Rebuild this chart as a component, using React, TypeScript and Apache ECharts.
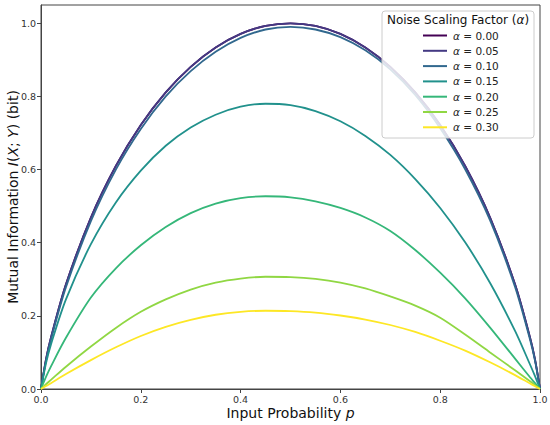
import React, { useEffect, useRef } from "react";
import * as echarts from "echarts";

const pValues = [0, 0.01, 0.02, 0.05, 0.1, 0.15, 0.2, 0.25, 0.3, 0.35, 0.4, 0.45, 0.5, 0.55, 0.6, 0.65, 0.7, 0.75, 0.8, 0.85, 0.9, 0.95, 0.98, 0.99, 1.0];

const alpha000 = [0, 0.081, 0.141, 0.286, 0.469, 0.61, 0.722, 0.811, 0.881, 0.934, 0.971, 0.993, 1.0, 0.993, 0.971, 0.934, 0.881, 0.811, 0.722, 0.61, 0.469, 0.286, 0.141, 0.081, 0];
const alpha005 = [0, 0.081, 0.141, 0.286, 0.469, 0.61, 0.722, 0.811, 0.881, 0.934, 0.971, 0.993, 1.0, 0.993, 0.971, 0.934, 0.881, 0.811, 0.722, 0.61, 0.469, 0.286, 0.141, 0.081, 0];
const alpha010 = [0, 0.077, 0.135, 0.278, 0.459, 0.6, 0.711, 0.8, 0.869, 0.922, 0.96, 0.983, 0.99, 0.983, 0.962, 0.926, 0.874, 0.804, 0.713, 0.601, 0.461, 0.279, 0.135, 0.077, 0];
const alpha015 = [0, 0.07, 0.122, 0.245, 0.396, 0.51, 0.597, 0.665, 0.715, 0.75, 0.772, 0.78, 0.776, 0.76, 0.732, 0.692, 0.64, 0.574, 0.495, 0.401, 0.29, 0.159, 0.067, 0.035, 0];
const alpha020 = [0, 0.033, 0.062, 0.14, 0.25, 0.33, 0.393, 0.443, 0.481, 0.507, 0.522, 0.527, 0.524, 0.513, 0.495, 0.469, 0.432, 0.38, 0.318, 0.248, 0.168, 0.083, 0.032, 0.016, 0];
const alpha025 = [0, 0.013, 0.025, 0.061, 0.116, 0.167, 0.211, 0.245, 0.272, 0.291, 0.302, 0.307, 0.306, 0.301, 0.291, 0.275, 0.253, 0.228, 0.195, 0.149, 0.1, 0.051, 0.021, 0.0105, 0];
const alpha030 = [0, 0.008, 0.016, 0.041, 0.079, 0.114, 0.145, 0.17, 0.189, 0.203, 0.211, 0.214, 0.213, 0.209, 0.201, 0.19, 0.175, 0.156, 0.132, 0.105, 0.073, 0.038, 0.015, 0.0075, 0];

const seriesNames = ["α = 0.00", "α = 0.05", "α = 0.10", "α = 0.15", "α = 0.20", "α = 0.25", "α = 0.30"];
const seriesValues = [alpha000, alpha005, alpha010, alpha015, alpha020, alpha025, alpha030];
const colors = ["#440154", "#443983", "#31688e", "#21918c", "#35b779", "#90d743", "#fde725"];
const yTicks = [0, 0.2, 0.4, 0.6, 0.8, 1.0];
const xTicks = [0, 0.2, 0.4, 0.6, 0.8, 1.0];

const FONT = "DejaVu Sans";

export default function App() {
  const ref = useRef<HTMLDivElement>(null);
  useEffect(() => {
    if (!ref.current) return;
    const chart = echarts.init(ref.current, null, { renderer: "svg" });
    const option = {
      animation: false,
      backgroundColor: "#ffffff",
      color: colors,
      textStyle: { fontFamily: FONT },
      grid: {
        left: 41,
        right: 10,
        top: 5,
        bottom: 36,
        containLabel: false,
        outerBoundsMode: "none",
        show: true,
        borderColor: "#444",
        borderWidth: 1,
        backgroundColor: "transparent",
      },
      xAxis: {
        type: "value",
        min: 0,
        max: 1,
        interval: 0.2,
        splitLine: { show: false },
        axisLine: { show: true, lineStyle: { color: "#444", width: 1 } },
        axisTick: { show: true, length: 4, lineStyle: { color: "#444" }, customValues: xTicks },
        axisLabel: {
          color: "#333",
          fontSize: 9.5,
          fontFamily: FONT,
          margin: 5,
          customValues: xTicks,
          formatter: (v: number) => v.toFixed(1),
        },
        name: "{n|Input Probability }{i|p}",
        nameLocation: "middle",
        nameGap: 17,
        nameMoveOverlap: false,
        nameTextStyle: {
          rich: {
            n: { fontSize: 14, fontFamily: FONT, color: "#111" },
            i: { fontSize: 14, fontFamily: FONT, fontStyle: "italic", color: "#111" },
          },
        },
      },
      yAxis: {
        type: "value",
        min: 0,
        max: 1.05,
        interval: 0.2,
        splitLine: { show: false },
        axisLine: { show: true, lineStyle: { color: "#444", width: 1 } },
        axisTick: { show: true, length: 4, lineStyle: { color: "#444" }, customValues: yTicks },
        axisLabel: {
          color: "#333",
          fontSize: 9.5,
          fontFamily: FONT,
          margin: 5,
          customValues: yTicks,
          formatter: (v: number) => v.toFixed(1),
        },
        name: "{n|Mutual Information }{i|I}{n|(}{i|X}{n|; }{i|Y}{n|) (bit)}",
        nameLocation: "middle",
        nameGap: 21,
        nameMoveOverlap: false,
        nameTextStyle: {
          rich: {
            n: { fontSize: 14, fontFamily: FONT, color: "#111" },
            i: { fontSize: 14, fontFamily: FONT, fontStyle: "italic", color: "#111" },
          },
        },
      },
      legend: {
        show: true,
        orient: "vertical",
        left: 418,
        top: 25,
        z: 5,
        itemWidth: 24,
        itemHeight: 2,
        itemGap: 4.3,
        icon: "rect",
        data: seriesNames,
        formatter: (name: string) => "{a|α}{b|" + name.slice(1) + "}",
        textStyle: {
          fontFamily: FONT,
          fontSize: 10.5,
          color: "#222",
          padding: [0, 0, 0, 1],
          rich: {
            a: { fontFamily: FONT, fontSize: 10.5, fontStyle: "italic", color: "#222" },
            b: { fontFamily: FONT, fontSize: 10.5, color: "#222" },
          },
        },
      },
      graphic: [
        {
          type: "rect",
          z: 4,
          shape: { x: 382, y: 11, width: 152, height: 127, r: 3 },
          style: { fill: "rgba(255,255,255,0.82)", stroke: "#cccccc", lineWidth: 1 },
        },
        {
          type: "text",
          z: 5,
          x: 458,
          y: 20,
          style: {
            text: "{n|Noise Scaling Factor (}{i|α}{n|)}",
            align: "center",
            verticalAlign: "middle",
            rich: {
              n: { fontFamily: FONT, fontSize: 12, fill: "#111" },
              i: { fontFamily: FONT, fontSize: 12, fontStyle: "italic", fill: "#111" },
            },
          },
        },
      ],
      series: seriesValues.map((vals, i) => ({
        type: "line",
        name: seriesNames[i],
        data: pValues.map((p, j) => [p, vals[j]]),
        showSymbol: false,
        smooth: 0.3,
        z: 2,
        lineStyle: { width: 1.8, color: colors[i] },
        itemStyle: { color: colors[i] },
      })),
    };
    chart.setOption(option as any);
    return () => chart.dispose();
  }, []);
  return (
    <div
      ref={ref}
      style={{ position: "absolute", left: 0, top: 0, width: 550, height: 425 }}
    />
  );
}
